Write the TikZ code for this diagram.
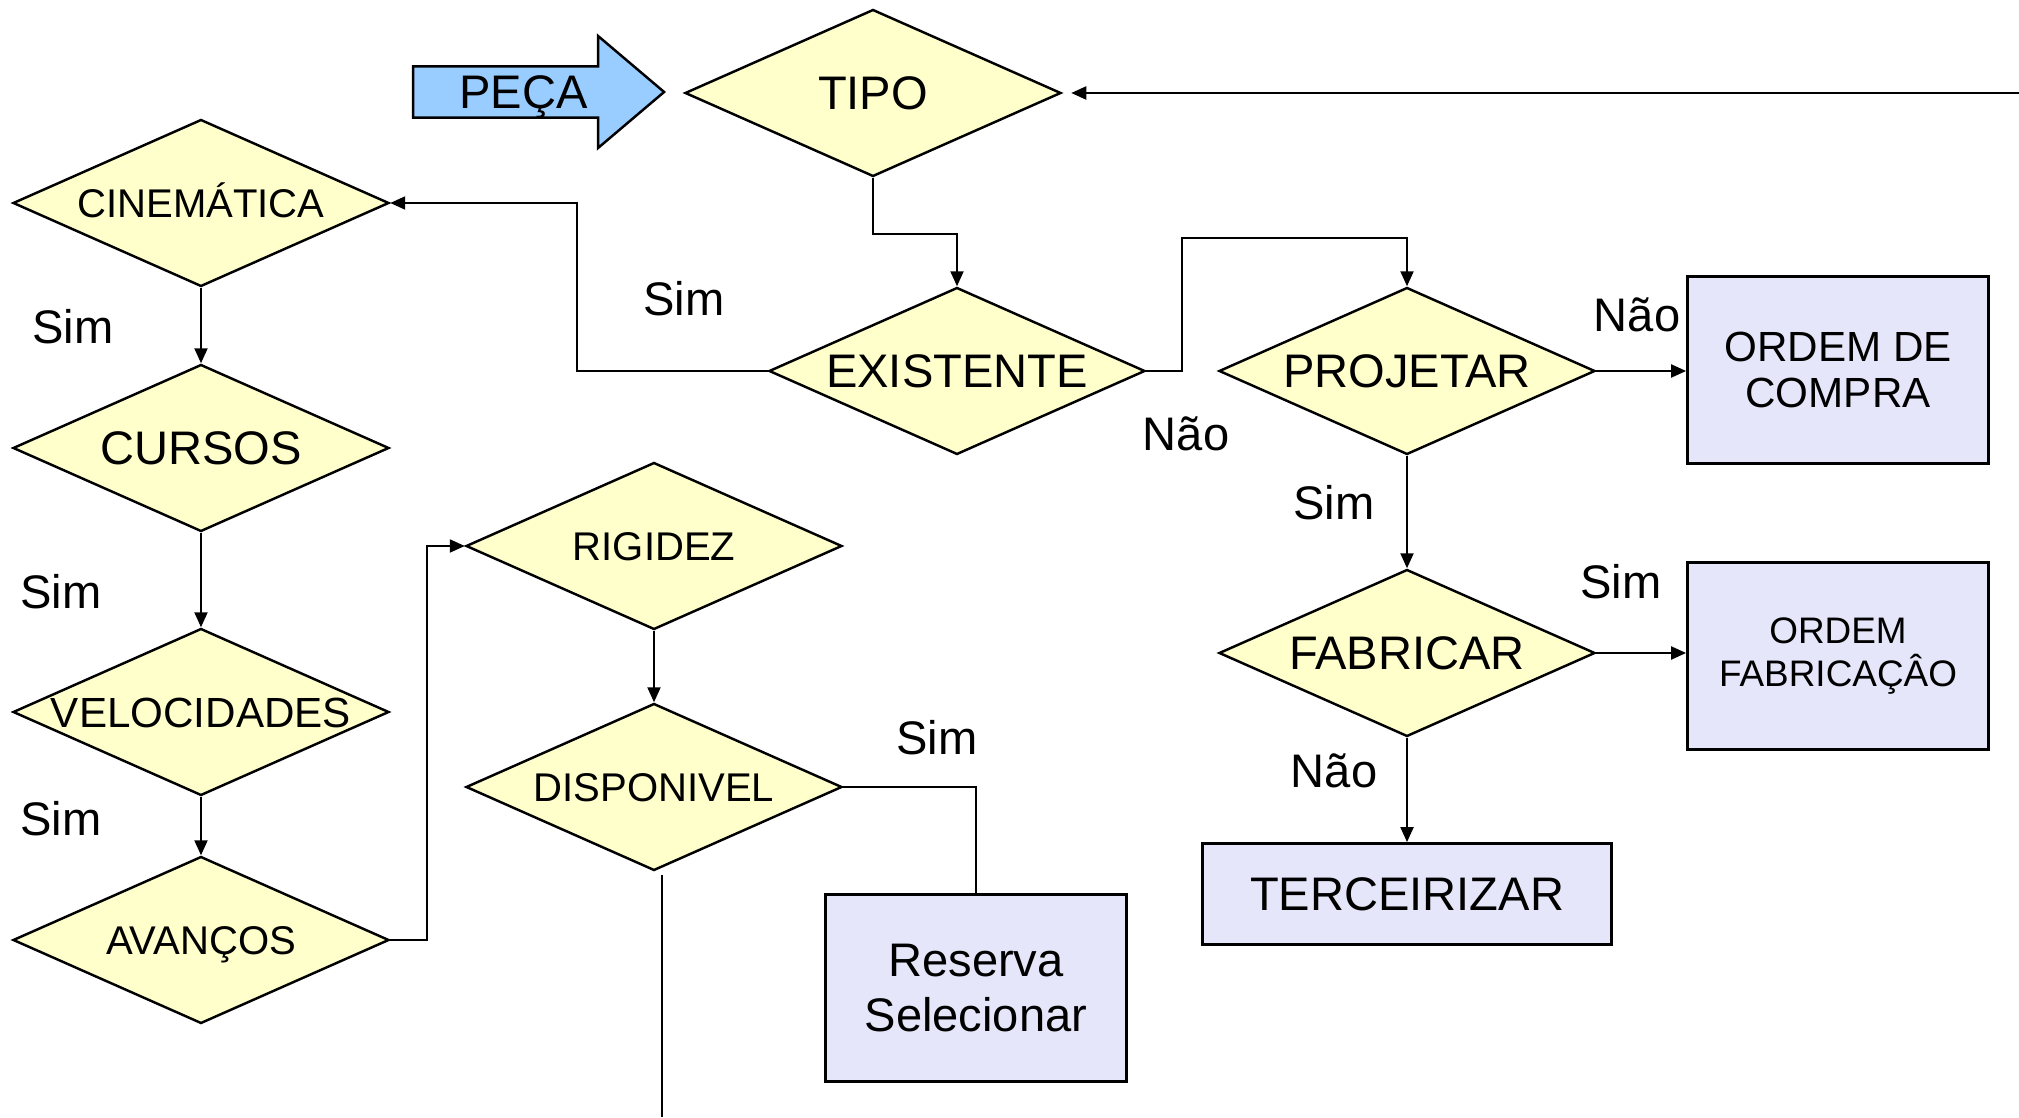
\documentclass[tikz,border=0pt]{standalone}
\usepackage{fontspec}
\setmainfont{Liberation Sans}
\usetikzlibrary{shapes.geometric, shapes.arrows, arrows.meta}
\definecolor{amarelo}{HTML}{FFFFCC}
\definecolor{lilas}{HTML}{E6E6FA}
\definecolor{azul}{HTML}{99CCFF}

\begin{document}
\begin{tikzpicture}[x=1cm, y=1cm, >={Triangle[length=1.5mm, width=1.3mm]}, line width=0.6pt,
    decisao/.style={diamond, draw, fill=amarelo, line width=0.7pt, aspect=2.25,
        minimum width=3.76cm, minimum height=1.67cm, inner sep=0pt,
        text height=9.6pt, text depth=0pt,
        font=\fontsize{13.4}{15}\selectfont},
    menor/.style={font=\fontsize{11.4}{13}\selectfont, text height=8.2pt},
    caixa/.style={rectangle, draw, fill=lilas, line width=0.8pt, align=center,
        minimum width=3.01cm, minimum height=1.87cm, inner sep=0pt},
    rotulo/.style={font=\fontsize{13.4}{15}\selectfont, inner sep=0pt}]
    \useasboundingbox (0,0) rectangle (20.19,11.17);
    % entrada
    \node[single arrow, draw, fill=azul, line width=0.7pt, anchor=tip,
        minimum height=2.51cm, minimum width=1.12cm, single arrow head extend=0.275cm,
        single arrow tip angle=80.6, inner sep=0.05cm, text height=9.6pt, text depth=0pt,
        font=\fontsize{13.4}{15}\selectfont] (peca) at (6.66,10.25) {PEÇA};
    \node[decisao] (tipo) at (8.73,10.24) {TIPO};
    % lado direito
    \node[decisao] (existente) at (9.57,7.46) {EXISTENTE};
    \node[decisao] (projetar) at (14.07,7.46) {PROJETAR};
    \node[decisao] (fabricar) at (14.07,4.64) {FABRICAR};
    \node[caixa, font=\fontsize{12}{13.1}\selectfont] (compra) at (18.38,7.47) {ORDEM DE\\COMPRA};
    \node[caixa, font=\fontsize{10.5}{12.2}\selectfont] (fabricacao) at (18.38,4.61) {ORDEM\\FABRICAÇÂO};
    \node[caixa, minimum width=4.09cm, minimum height=1.01cm,
        font=\fontsize{13.4}{15}\selectfont] (terceirizar) at (14.07,2.23) {TERCEIRIZAR};
    % lado esquerdo
    \node[decisao, menor] (cinematica) at (2.01,9.14) {CINEMÁTICA};
    \node[decisao] (cursos) at (2.01,6.69) {CURSOS};
    \node[decisao, font=\fontsize{12}{14}\selectfont, text height=8.6pt, inner xsep=-4pt] (velocidades) at (2.01,4.05) {VELOCIDADES};
    \node[decisao, menor] (avancos) at (2.01,1.77) {AVANÇOS};
    \node[decisao, menor] (rigidez) at (6.54,5.71) {RIGIDEZ};
    \node[decisao, menor] (disponivel) at (6.54,3.30) {DISPONIVEL};
    \node[caixa, font=\fontsize{13.4}{15.4}\selectfont] (reserva) at (9.76,1.29) {Reserva\\Selecionar};
    \coordinate (volta) at (20.19,10.24);
    \coordinate (fim) at (6.62,0);
    % rotulos
    \node[rotulo] (sim1) at (0.73,7.90) {Sim};
    \node[rotulo] (sim2) at (0.61,5.25) {Sim};
    \node[rotulo] (sim3) at (0.61,2.98) {Sim};
    \node[rotulo] (sim4) at (6.84,8.18) {Sim};
    \node[rotulo] (nao1) at (11.86,6.83) {Não};
    \node[rotulo] (nao2) at (16.37,8.02) {Não};
    \node[rotulo] (sim5) at (13.34,6.14) {Sim};
    \node[rotulo] (sim6) at (16.21,5.35) {Sim};
    \node[rotulo] (nao3) at (13.34,3.46) {Não};
    \node[rotulo] (sim7) at (9.37,3.79) {Sim};
    % ligacoes
    \draw[->, shorten >=0.09cm] (volta) -- (tipo.east);
    \draw[->] (tipo.south) -- ++(0,-0.56) -| (existente.north);
    \draw[->] (existente.west) -- ++(-1.91,0) |- (cinematica.east);
    \draw[->] (existente.east) -- ++(0.36,0) -- ++(0,1.33) -| (projetar.north);
    \draw[->] (projetar.east) -- (projetar.east -| compra.west);
    \draw[->] (projetar.south) -- (fabricar.north);
    \draw[->] (fabricar.east) -- (fabricar.east -| fabricacao.west);
    \draw[->] (fabricar.south) -- (terceirizar.north);
    \draw[->] (cinematica.south) -- (cursos.north);
    \draw[->] (cursos.south) -- (velocidades.north);
    \draw[->] (velocidades.south) -- (avancos.north);
    \draw[->] (avancos.east) -- ++(0.37,0) |- (rigidez.west);
    \draw[->] (rigidez.south) -- (disponivel.north);
    \draw (disponivel.east) -| (reserva.north);
    \draw (fim |- disponivel.south) ++(0,-0.03) -- (fim);
\end{tikzpicture}
\end{document}
